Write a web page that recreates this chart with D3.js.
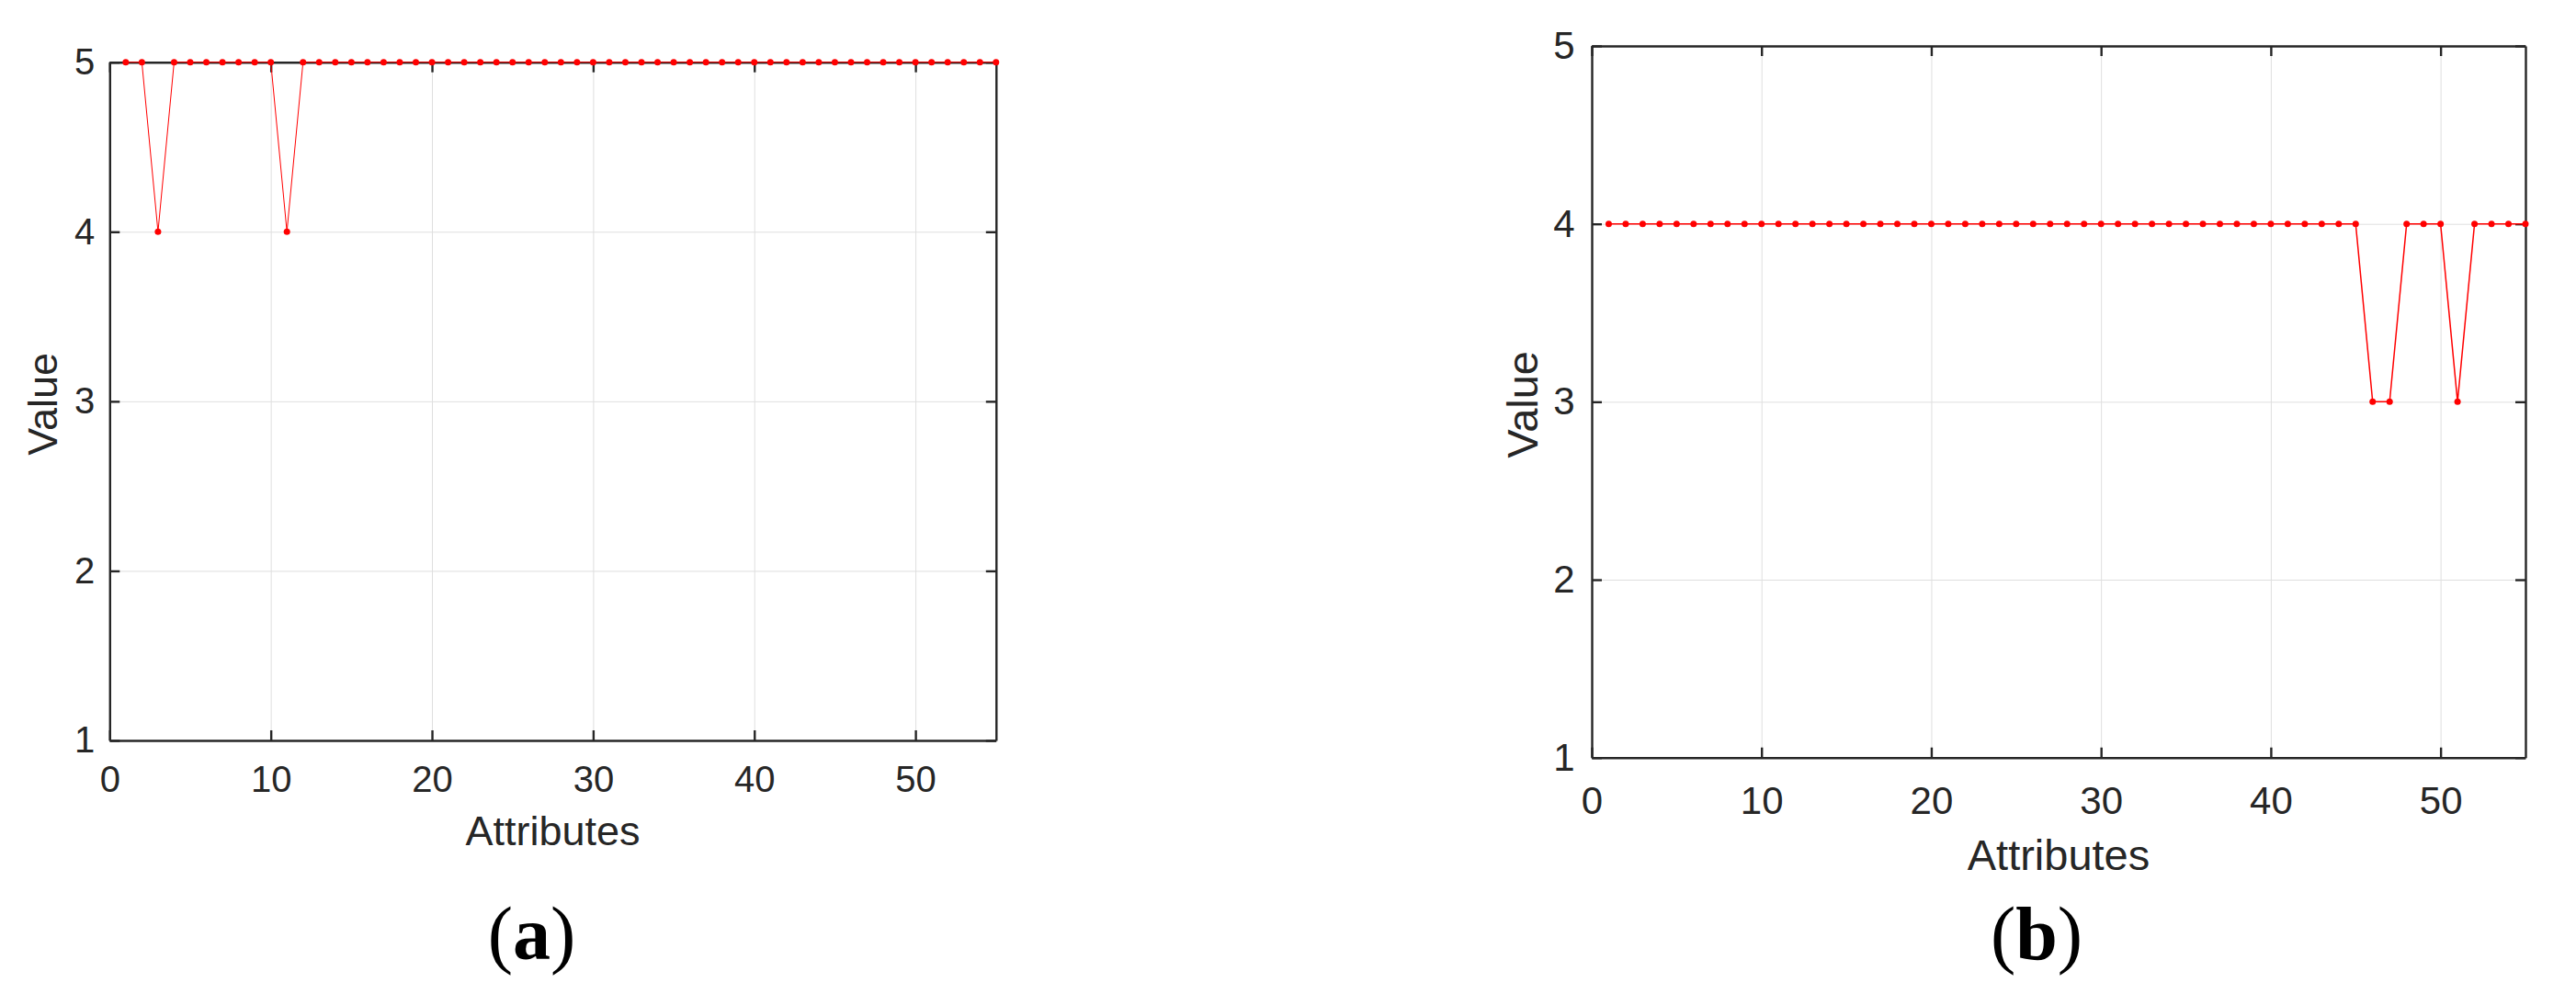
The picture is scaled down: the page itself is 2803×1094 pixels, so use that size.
<!DOCTYPE html>
<html>
<head>
<meta charset="utf-8">
<script src="https://cdn.jsdelivr.net/npm/d3@7"></script>
<style>
  html, body { margin: 0; padding: 0; background: #fff; }
  svg text { font-family: "Liberation Sans", Arial, sans-serif; fill: #262626; }
  text.tag { font-family: "Liberation Serif", "Times New Roman", serif; fill: #000; }
</style>
</head>
<body>
<div id="chart"></div>
<script>
// datos: 55 atributos por panel
var attributes = [1,2,3,4,5,6,7,8,9,10,11,12,13,14,15,16,17,18,19,20,21,22,23,24,25,26,27,28,29,30,
                  31,32,33,34,35,36,37,38,39,40,41,42,43,44,45,46,47,48,49,50,51,52,53,54,55];

var valuesA = [5,5,4,5,5,5,5,5,5,5,4,5,5,5,5,5,5,5,5,5,5,5,5,5,5,5,5,5,5,5,
               5,5,5,5,5,5,5,5,5,5,5,5,5,5,5,5,5,5,5,5,5,5,5,5,5];

var valuesB = [4,4,4,4,4,4,4,4,4,4,4,4,4,4,4,4,4,4,4,4,4,4,4,4,4,4,4,4,4,4,
               4,4,4,4,4,4,4,4,4,4,4,4,4,4,4,3,3,4,4,4,3,4,4,4,4];

var xTicks = [0, 10, 20, 30, 40, 50];
var yTicks = [1, 2, 3, 4, 5];
var xDomain = [0, 55];
var yDomain = [1, 5];
var xLabel = "Attributes";
var yLabel = "Value";
var tagsP = ["a", "b"];

// Dimensiones del lienzo
var W = 2803, H = 1094;

var svg = d3.select("#chart")
  .append("svg")
    .attr("width", W)
    .attr("height", H);

// paneles (posiciones en pixeles)
var panels = [
  { values: valuesA, tag: tagsP[0], left: 119.3, right: 1083.8, top: 67.7, bottom: 806,
    tickFont: 40, labelFont: 45, tickPad: 27.5, yPad: 16, xLabelY: 920, yLabelX: 62,
    tagX: 578.5, tagY: 1044, lineW: 1, r: 3.5 },
  { values: valuesB, tag: tagsP[1], left: 1732, right: 2748, top: 50, bottom: 824.7,
    tickFont: 42, labelFont: 47, tickPad: 31, yPad: 18.5, xLabelY: 947, yLabelX: 1673,
    tagX: 2216, tagY: 1044, lineW: 1.5, r: 3.5 }
];

panels.forEach(function(p) {
  var width = p.right - p.left,
      height = p.bottom - p.top;

  var x = d3.scaleLinear().domain(xDomain).range([0, width]);
  var y = d3.scaleLinear().domain(yDomain).range([height, 0]);

  var g = svg.append("g")
    .attr("transform", "translate(" + p.left + "," + p.top + ")");

  // rejilla
  g.append("g")
    .attr("class", "grid")
    .attr("transform", "translate(0," + height + ")")
    .call(d3.axisBottom(x).tickValues(xTicks).tickSize(-height).tickFormat(""))
    .call(function(s) { s.select(".domain").remove(); })
    .selectAll("line").attr("stroke", "#dfdfdf").attr("stroke-width", 1);
  g.append("g")
    .attr("class", "grid")
    .call(d3.axisLeft(y).tickValues(yTicks).tickSize(-width).tickFormat(""))
    .call(function(s) { s.select(".domain").remove(); })
    .selectAll("line").attr("stroke", "#dfdfdf").attr("stroke-width", 1);

  // ejes con ticks hacia dentro
  var tl = 11;
  var fmt = d3.format("d");
  var xAxis = g.append("g")
    .attr("transform", "translate(0," + height + ")")
    .call(d3.axisBottom(x).tickValues(xTicks).tickFormat(fmt).tickSizeInner(-tl).tickSizeOuter(0).tickPadding(p.tickPad));
  var yAxis = g.append("g")
    .call(d3.axisLeft(y).tickValues(yTicks).tickFormat(fmt).tickSizeInner(-tl).tickSizeOuter(0).tickPadding(p.yPad));
  var xTop = g.append("g")
    .call(d3.axisTop(x).tickValues(xTicks).tickSizeInner(-tl).tickSizeOuter(0).tickFormat(""));
  var yRight = g.append("g")
    .attr("transform", "translate(" + width + ",0)")
    .call(d3.axisRight(y).tickValues(yTicks).tickSizeInner(-tl).tickSizeOuter(0).tickFormat(""));

  [xAxis, yAxis, xTop, yRight].forEach(function(a) {
    a.attr("font-size", null).attr("font-family", null);
    a.select(".domain").attr("stroke", "#262626").attr("stroke-width", 2.4);
    a.selectAll(".tick line").attr("stroke", "#262626").attr("stroke-width", 2.4);
    a.selectAll(".tick text").attr("fill", "#262626").style("font-size", p.tickFont + "px");
  });

  // linea
  var pts = attributes.map(function(a, i) { return { a: a, v: p.values[i] }; });
  var line = d3.line()
    .x(function(d) { return x(d.a); })
    .y(function(d) { return y(d.v); });

  g.append("path")
    .datum(pts)
    .attr("fill", "none")
    .attr("stroke", "#ff0000")
    .attr("stroke-width", p.lineW)
    .attr("d", line);

  // puntos
  g.selectAll("circle.dot")
    .data(pts)
    .enter().append("circle")
    .attr("class", "dot")
    .attr("cx", function(d) { return x(d.a); })
    .attr("cy", function(d) { return y(d.v); })
    .attr("r", p.r)
    .attr("fill", "#ff0000");

  // etiquetas de ejes
  svg.append("text")
    .attr("x", p.left + width / 2)
    .attr("y", p.xLabelY)
    .attr("text-anchor", "middle")
    .style("font-size", p.labelFont + "px")
    .text(xLabel);

  svg.append("text")
    .attr("transform", "translate(" + p.yLabelX + "," + (p.top + height / 2 + 3) + ") rotate(-90)")
    .attr("text-anchor", "middle")
    .style("font-size", p.labelFont + "px")
    .text(yLabel);

  // (a) / (b)
  var t = svg.append("text")
    .attr("class", "tag")
    .attr("x", p.tagX)
    .attr("y", p.tagY)
    .attr("text-anchor", "middle")
    .style("font-size", "82px");
  t.append("tspan").text("(");
  t.append("tspan").style("font-weight", "bold").text(p.tag);
  t.append("tspan").text(")");
});
</script>
</body>
</html>
